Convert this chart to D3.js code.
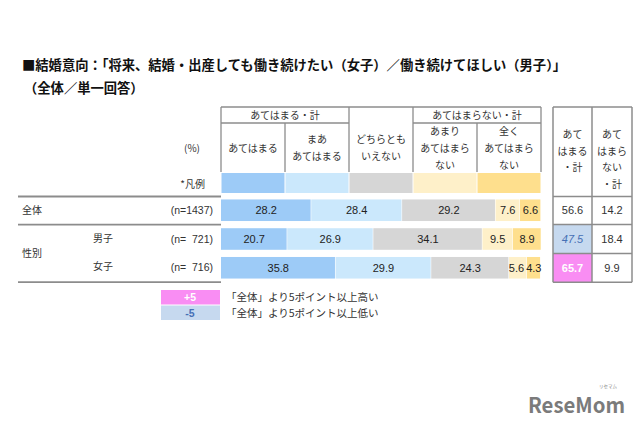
<!DOCTYPE html>
<html><head><meta charset="utf-8">
<script src="https://cdn.jsdelivr.net/npm/d3@7"></script>
<style>
html,body{margin:0;padding:0;background:#fff;}
svg{display:block;}
text{font-family:"Noto Sans CJK JP","Noto Sans",sans-serif;}
.num{font-family:"Liberation Sans","DejaVu Sans",sans-serif;}
</style></head>
<body>
<script>
// ---- data ----
const titleLines = ["■結婚意向：「将来、結婚・出産しても働き続けたい（女子）／働き続けてほしい（男子）」", "（全体／単一回答）"];
const responses = ["あてはまる", "まああてはまる", "どちらともいえない", "あまりあてはまらない", "全くあてはまらない"];
const responseHeaderLines = [["あてはまる"], ["まあ", "あてはまる"], ["どちらとも", "いえない"], ["あまり", "あてはまら", "ない"], ["全く", "あてはまら", "ない"]];
const groupHeaders = ["あてはまる・計", "あてはまらない・計"];
const categories = ["全体", "男子", "女子"];
const nLabels = ["(n=1437)", "(n=  721)", "(n=  716)"];
const valAtehamaru = [28.2, 20.7, 35.8];
const valMaa = [28.4, 26.9, 29.9];
const valDochira = [29.2, 34.1, 24.3];
const valAmari = [7.6, 9.5, 5.6];
const valMattaku = [6.6, 8.9, 4.3];
const totalYes = [56.6, 47.5, 65.7];
const totalNo = [14.2, 18.4, 9.9];
const totalHeaders = [["あて", "はまる", "・計"], ["あて", "はまら", "ない", "・計"]];
const legendNotes = [["+5", "「全体」より5ポイント以上高い"], ["-5", "「全体」より5ポイント以上低い"]];

const colors = ["#9dcbf7", "#cbe8fc", "#d6d6d6", "#fef0c9", "#fedf8d"];
const lineCol = "#8c8c8c";

const W = 640, H = 426;
const svg = d3.select("body").append("svg").attr("width", W).attr("height", H);

// title
svg.append("text").attr("x", 22).attr("y", 70).attr("font-size", 13.3).attr("font-weight", "bold")
  .attr("fill", "#111").text(titleLines[0]);
svg.append("text").attr("x", 24).attr("y", 93).attr("font-size", 13.3).attr("font-weight", "bold")
  .attr("fill", "#111").text(titleLines[1]);

// scales
const x = d3.scaleLinear().domain([0, 100]).range([221, 541]);
const colX = d3.scaleBand().domain(responses).range([221, 541]);
const y = d3.scaleBand().domain(categories).range([196, 282]).paddingInner(0.25).paddingOuter(0.12);
const step = y.step(), bw = y.bandwidth();
const gap = (step - bw) / 2;

// ---- header table ----
const hTop = 107, hMid = 123, hBot = 172, legTop = 172, legBot = 193;
const hg = svg.append("g");
const ln = (x1, y1, x2, y2, w) => hg.append("line").attr("x1", x1).attr("y1", y1).attr("x2", x2).attr("y2", y2)
  .attr("stroke", lineCol).attr("stroke-width", w || 1.3);
ln(221, hTop, 541, hTop);
ln(221, hMid, colX(responses[2]), hMid);
ln(colX(responses[3]), hMid, 541, hMid);
ln(221, hTop, 221, hBot);
ln(541, hTop, 541, hBot);
ln(colX(responses[2]), hTop, colX(responses[2]), hBot);
ln(colX(responses[3]), hTop, colX(responses[3]), hBot);
ln(colX(responses[1]), hMid, colX(responses[1]), hBot);
ln(colX(responses[4]), hMid, colX(responses[4]), hBot);

const fs = 10;
hg.append("text").attr("x", colX(responses[1])).attr("y", 119).attr("text-anchor", "middle")
  .attr("font-size", fs).attr("fill", "#333").text(groupHeaders[0]);
hg.append("text").attr("x", colX(responses[4])).attr("y", 119).attr("text-anchor", "middle")
  .attr("font-size", fs).attr("fill", "#333").text(groupHeaders[1]);
const lineYs = {1: [152], 2: [143, 160], 3: [135, 152, 169]};
responses.forEach((r, i) => {
  const ls = responseHeaderLines[i];
  const ys = lineYs[ls.length];
  ls.forEach((t, j) => {
    hg.append("text").attr("x", colX(r) + colX.bandwidth() / 2).attr("y", ys[j]).attr("text-anchor", "middle")
      .attr("font-size", fs).attr("fill", "#333").text(t);
  });
  hg.append("rect").attr("x", colX(r) + 0.5).attr("y", legTop + 1).attr("width", colX.bandwidth() - 1)
    .attr("height", legBot - legTop - 1).attr("fill", colors[i]);
});
hg.append("text").attr("x", 200).attr("y", 152).attr("text-anchor", "end").attr("font-size", fs).attr("fill", "#333").text("(%)");
hg.append("text").attr("x", 205).attr("y", 188).attr("text-anchor", "end").attr("font-size", fs).attr("fill", "#333").text("*凡例");

// ---- left labels & rules ----
const rules = [196.5, y(categories[1]) - gap, y(categories[2]) + bw + gap];
rules.forEach(r => svg.append("line").attr("x1", 18).attr("x2", 221).attr("y1", r).attr("y2", r)
  .attr("stroke", lineCol).attr("stroke-width", 1.8));
const cy = c => y(c) + bw / 2 + 3.5;
svg.append("text").attr("x", 22).attr("y", cy(categories[0])).attr("font-size", fs).attr("fill", "#333").text(categories[0]);
svg.append("text").attr("x", 93).attr("y", cy(categories[1]) - 1).attr("font-size", fs).attr("fill", "#333").text(categories[1]);
svg.append("text").attr("x", 93).attr("y", cy(categories[2]) - 1).attr("font-size", fs).attr("fill", "#333").text(categories[2]);
svg.append("text").attr("x", 22).attr("y", (cy(categories[1]) + cy(categories[2])) / 2).attr("font-size", fs).attr("fill", "#333").text("性別");
categories.forEach((c, i) => {
  svg.append("text").attr("class", "num").attr("x", 213).attr("y", cy(c)).attr("text-anchor", "end")
    .attr("font-size", 10.5).attr("fill", "#333").style("white-space", "pre").text(nLabels[i]);
});

// ---- stacked bars ----
const seriesVals = [valAtehamaru, valMaa, valDochira, valAmari, valMattaku];
const rows = categories.map((c, i) => {
  const o = {cat: c};
  responses.forEach((r, k) => o[r] = seriesVals[k][i]);
  return o;
});
const stack = d3.stack().keys(responses)(rows);
const bg = svg.append("g");
stack.forEach((s, k) => {
  s.forEach(d => {
    const c = d.data.cat;
    bg.append("rect").attr("x", x(d[0])).attr("y", y(c)).attr("width", Math.max(0, x(d[1]) - x(d[0]) - 0.6))
      .attr("height", bw).attr("fill", colors[k]);
  });
});
// labels, with a small left-nudge pass to avoid collisions in narrow segments
categories.forEach((c, i) => {
  const labs = stack.map(s => {
    const d = s[i];
    const t = bg.append("text").attr("class", "num").attr("y", y(c) + bw / 2 + 4)
      .attr("text-anchor", "middle").attr("font-size", 11).attr("fill", "#222")
      .text(d3.format(".1f")(d[1] - d[0]));
    const w = t.node().getComputedTextLength();
    return {t, cx: (x(d[0]) + x(d[1])) / 2, w};
  });
  for (let k = labs.length - 1; k > 0; k--) {
    const a = labs[k - 1], b = labs[k];
    const overlap = (a.cx + a.w / 2 + 2) - (b.cx - b.w / 2);
    if (overlap > 0) a.cx -= overlap;
  }
  labs.forEach(l => l.t.attr("x", l.cx));
});

// ---- totals table ----
const tX = [553, 592, 632];
const tTop = 107, tHeadBot = 196.5, tBot = y(categories[2]) + bw + gap;
const tg = svg.append("g");
const hl = (i, k) => {
  const v = k === 0 ? totalYes : totalNo;
  if (i === 0) return null;
  if (v[i] - v[0] >= 5) return "hi";
  if (v[0] - v[i] >= 5) return "lo";
  return null;
};
categories.forEach((c, i) => {
  const top = y(c) - gap, bot = y(c) + bw + gap;
  [totalYes, totalNo].forEach((v, k) => {
    const h = hl(i, k);
    if (h) tg.append("rect").attr("x", tX[k]).attr("y", top).attr("width", tX[k + 1] - tX[k]).attr("height", bot - top)
      .attr("fill", h === "hi" ? "#f98df3" : "#c6d9ef");
    tg.append("text").attr("class", "num").attr("x", (tX[k] + tX[k + 1]) / 2).attr("y", (top + bot) / 2 + 4)
      .attr("text-anchor", "middle").attr("font-size", 11)
      .attr("fill", h === "hi" ? "#fff" : h === "lo" ? "#4670b5" : "#333")
      .attr("font-weight", h === "hi" ? "bold" : "normal")
      .attr("font-style", h === "lo" ? "italic" : "normal")
      .text(d3.format(".1f")(v[i]));
  });
});
const tl = (x1, y1, x2, y2) => tg.append("line").attr("x1", x1).attr("y1", y1).attr("x2", x2).attr("y2", y2)
  .attr("stroke", lineCol).attr("stroke-width", 1.5);
tX.forEach(xx => tl(xx, tTop, xx, tBot));
tl(553, tTop, 632, tTop);
tl(553, tHeadBot, 632, tHeadBot);
categories.forEach(c => tl(553, y(c) + bw + gap, 632, y(c) + bw + gap));
totalHeaders.forEach((ls, k) => {
  ls.forEach((t, j) => {
    tg.append("text").attr("x", (tX[k] + tX[k + 1]) / 2).attr("y", 138 + j * 16.5).attr("text-anchor", "middle")
      .attr("font-size", fs).attr("fill", "#333").text(t);
  });
});

// ---- legend notes ----
const lg = svg.append("g");
legendNotes.forEach((n, i) => {
  const top = 290 + i * 15.5;
  lg.append("rect").attr("x", 161).attr("y", top).attr("width", 59).attr("height", 14.5)
    .attr("fill", i === 0 ? "#f98df3" : "#c6d9ef");
  lg.append("text").attr("class", "num").attr("x", 190).attr("y", top + 11).attr("text-anchor", "middle")
    .attr("font-size", 10.5).attr("font-weight", "bold").attr("fill", i === 0 ? "#fff" : "#4670b5").text(n[0]);
  lg.append("text").attr("x", 226).attr("y", top + 11).attr("font-size", 10.5).attr("fill", "#333").text(n[1]);
});

// ---- logo ----
svg.append("text").attr("x", 528).attr("y", 413).attr("font-family", "'Liberation Sans'").attr("font-weight", "bold")
  .attr("font-size", 21).attr("fill", "#7b7b7b").attr("textLength", 97).attr("lengthAdjust", "spacingAndGlyphs").text("ReseMom");
svg.append("text").attr("x", 599).attr("y", 388).attr("font-size", 4.5).attr("fill", "#888").text("リセマム");
</script>
</body></html>
